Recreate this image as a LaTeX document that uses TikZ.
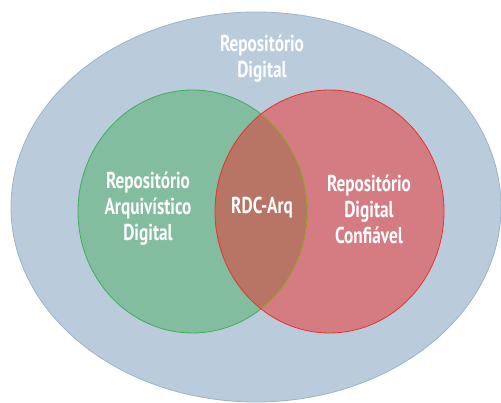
\documentclass[tikz,border=0pt]{standalone}
\usepackage{fontspec}
\newfontfamily\vennfont[FakeStretch=0.75]{PT Sans}
\usetikzlibrary{calc}
\definecolor{outerfill}{HTML}{BACCDC}
\definecolor{outerline}{HTML}{9DB3C8}
\definecolor{greenfill}{HTML}{83BDA0}
\definecolor{greenline}{HTML}{3DAF5A}
\definecolor{redfill}{HTML}{D57C83}
\definecolor{redline}{HTML}{E3342E}
\definecolor{bothfill}{HTML}{B87565}
\tikzset{label/.style={color=#1,font=\vennfont\bfseries\fontsize{23}{26}\selectfont,
	align=center,inner sep=0pt},label/.default=white}

\begin{document}
\begin{tikzpicture}[x=1pt,y=1pt]

		\clip (0,0) rectangle (501,403);
		\fill [white] (0,0) rectangle (501,403);

		\coordinate (O) at (256,196);
		\coordinate (G) at (192.5,191.5);
		\coordinate (R) at (329.5,191.5);

		\draw [outerline,fill=outerfill,thick] (O) ellipse [x radius=245,y radius=195];

		\fill [greenfill] (G) ellipse [x radius=114.5,y radius=121.5];
		\fill [redfill] (R) ellipse [x radius=114.5,y radius=121.5];
		\begin{scope}
			\clip (G) ellipse [x radius=114.5,y radius=121.5];
			\fill [bothfill] (R) ellipse [x radius=114.5,y radius=121.5];
		\end{scope}

		\draw [greenline,thick] (G) ellipse [x radius=114.5,y radius=121.5];
		\begin{scope}
			\clip (R) ellipse [x radius=114.5,y radius=121.5];
			\draw [bothfill!70!black!60!yellow,thick] (G) ellipse [x radius=114.5,y radius=121.5];
		\end{scope}
		\draw [redline,thick] (R) ellipse [x radius=114.5,y radius=121.5];

		\node [label] (nodeDigital) at (262,344.5)
			{Repositório\\Digital};

		\node [label] (nodeArquivo) at (148,194)
			{Repositório\\Arquivístico\\Digital};

		\node [label] (nodeRDC) at (262,195)
			{RDC-Arq};

		\node [label] (nodeConfiavel) at (369,194)
			{Repositório\\Digital\\Confiável};

	\end{tikzpicture}
\end{document}
